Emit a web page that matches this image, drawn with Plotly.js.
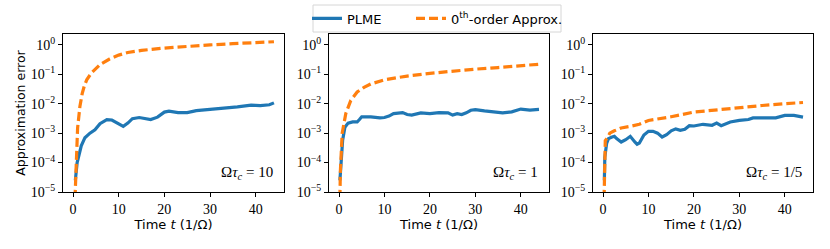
<!DOCTYPE html>
<html><head><meta charset="utf-8">
<script src="https://cdn.plot.ly/plotly-3.0.1.min.js"></script>
<style>body{margin:0;background:#fff}#c{width:830px;height:249px}</style>
</head><body><div id="c"></div>
<script>
// Panel labels
const panelLabels = ["Ω<i>τ</i><sub><i>c</i></sub> = 10", "Ω<i>τ</i><sub><i>c</i></sub> = 1", "Ω<i>τ</i><sub><i>c</i></sub> = 1/5"];
const seriesNames = ["PLME", "0<sup>th</sup>-order Approx."];
const yTickVals = [1e-5, 1e-4, 1e-3, 1e-2, 1e-1, 1];
const yTickText = ["10<sup>−5</sup>", "10<sup>−4</sup>", "10<sup>−3</sup>", "10<sup>−2</sup>", "10<sup>−1</sup>", "10<sup>0</sup>"];
const xTickVals = [0, 10, 20, 30, 40];

// Panel 1 (Ωτc = 10)
const t1_plme = [0.5, 0.9, 1.8, 2.6, 3.7, 4.8, 5.9, 7.4, 8.5, 10, 11, 12, 13, 14.5, 16, 17, 18.5, 20, 21, 23, 25, 27, 30, 33, 36, 39, 41, 43, 44];
const e1_plme = [2.5e-5, 1e-4, 3.7e-4, 7e-4, 1e-3, 1.3e-3, 2.1e-3, 2.9e-3, 2.8e-3, 2.0e-3, 1.7e-3, 2.2e-3, 3.1e-3, 3.4e-3, 3.2e-3, 2.9e-3, 3.5e-3, 5.2e-3, 5.6e-3, 5.0e-3, 5.0e-3, 5.8e-3, 6.4e-3, 7.0e-3, 7.8e-3, 9.0e-3, 8.6e-3, 9.2e-3, 1.07e-2];
const t1_zero = [0, 0.4, 0.7, 1.0, 1.5, 2.0, 2.5, 3, 4, 5, 6, 8, 10, 12, 15, 20, 25, 30, 35, 40, 44];
const e1_zero = [1e-7, 1e-5, 2e-4, 1.5e-3, 8e-3, 0.022, 0.042, 0.065, 0.11, 0.16, 0.22, 0.33, 0.45, 0.55, 0.65, 0.78, 0.9, 1.0, 1.1, 1.2, 1.28];

// Panel 2 (Ωτc = 1)
const t2_plme = [0.2, 0.5, 0.8, 1.3, 2, 3, 4, 4.5, 5, 7, 9, 10, 11, 12, 14, 15, 16, 18, 20, 22, 24, 25, 26, 27, 28, 29, 30, 32, 34, 36, 38, 40, 42, 44];
const e2_plme = [2.5e-5, 1.2e-4, 5.8e-4, 1.6e-3, 2.2e-3, 2.4e-3, 2.4e-3, 2.9e-3, 3.6e-3, 3.6e-3, 3.3e-3, 3.4e-3, 3.8e-3, 4.6e-3, 5.0e-3, 4.3e-3, 4.1e-3, 4.9e-3, 4.6e-3, 5.0e-3, 4.9e-3, 4.1e-3, 4.6e-3, 4.3e-3, 4.9e-3, 6.0e-3, 6.3e-3, 5.7e-3, 5.2e-3, 4.9e-3, 5.3e-3, 6.6e-3, 6.1e-3, 6.4e-3];
const t2_zero = [0, 0.3, 0.7, 1.5, 2.6, 4, 5.5, 7, 10, 15, 20, 25, 30, 35, 40, 44];
const e2_zero = [1e-7, 5e-5, 1e-3, 4.7e-3, 0.013, 0.025, 0.036, 0.047, 0.065, 0.087, 0.108, 0.13, 0.15, 0.17, 0.19, 0.22];

// Panel 3 (Ωτc = 1/5)
const t3_plme = [0.3, 0.4, 0.8, 1.2, 2, 2.5, 3, 4, 5, 6, 7, 7.5, 8, 9, 10, 11, 12, 13, 14, 15, 16, 17, 18, 19, 20, 22, 24, 25, 26, 27, 28, 30, 32, 33, 35, 36, 38, 40, 42, 44];
const e3_plme = [2.5e-5, 1.5e-4, 4.5e-4, 6.5e-4, 7.4e-4, 7.8e-4, 6.5e-4, 5e-4, 6e-4, 7.8e-4, 5e-4, 4.2e-4, 4.6e-4, 8.6e-4, 1.15e-3, 1.15e-3, 1e-3, 7.4e-4, 8.9e-4, 1.2e-3, 1.4e-3, 1.25e-3, 1.35e-3, 1.8e-3, 1.75e-3, 2e-3, 1.85e-3, 2.2e-3, 1.8e-3, 2.05e-3, 2.4e-3, 2.7e-3, 2.9e-3, 3.3e-3, 3.3e-3, 3.5e-3, 3.3e-3, 4e-3, 4e-3, 3.5e-3];
const t3_zero = [0, 0.3, 0.5, 1, 1.5, 2.5, 4, 6, 8, 10, 15, 20, 25, 30, 35, 40, 44];
const e3_zero = [1e-7, 1.5e-4, 5.6e-4, 7e-4, 1e-3, 1.2e-3, 1.5e-3, 1.7e-3, 2e-3, 2.7e-3, 3.6e-3, 5.2e-3, 6.3e-3, 7.5e-3, 8.7e-3, 1e-2, 1.1e-2];

const panels = [
  [t1_plme, e1_plme, t1_zero, e1_zero],
  [t2_plme, e2_plme, t2_zero, e2_zero],
  [t3_plme, e3_plme, t3_zero, e3_zero]
];

const W = 830, H = 249;
const xdoms = [[63, 284], [329, 549], [593, 813]];
const ydom = [1 - 192 / H, 1 - 34 / H];
const blue = "#1f77b4", orange = "#ff7f0e";
const tickFont = {family: "Liberation Serif, DejaVu Serif, serif", size: 14, color: "#000"};
const sansFont = {family: "DejaVu Sans, sans-serif", size: 13, color: "#000"};

const data = [];
const legendCommon = {orientation: "h", xanchor: "left", y: 1 - 18.5 / H, yanchor: "middle",
  borderwidth: 0, font: sansFont, bgcolor: "rgba(0,0,0,0)"};
const layout = {
  width: W, height: H,
  margin: {l: 0, r: 0, t: 0, b: 0},
  paper_bgcolor: "#fff", plot_bgcolor: "#fff",
  showlegend: true,
  legend: Object.assign({x: 307 / W}, legendCommon),
  legend2: Object.assign({x: 411 / W}, legendCommon),
  shapes: [{
    type: "rect", xref: "paper", yref: "paper",
    x0: 313 / W, x1: 561 / W, y0: 1 - 32 / H, y1: 1 - 5 / H,
    line: {color: "#d6d6d6", width: 1}, fillcolor: "rgba(255,255,255,0.8)", layer: "below"
  }],
  annotations: []
};

panels.forEach((p, i) => {
  const n = i === 0 ? "" : String(i + 1);
  const xa = "x" + n, ya = "y" + n;
  data.push({x: p[0], y: p[1], xaxis: xa, yaxis: ya, type: "scatter", mode: "lines",
    name: seriesNames[0], legendgroup: "a", showlegend: i === 0, legend: "legend",
    line: {color: blue, width: 3.2}});
  data.push({x: p[2], y: p[3], xaxis: xa, yaxis: ya, type: "scatter", mode: "lines",
    name: seriesNames[1], legendgroup: "b", showlegend: i === 0, legend: "legend2",
    line: {color: orange, width: 3.2, dash: "9px,4px"}});
  layout["xaxis" + n] = {
    domain: [xdoms[i][0] / W, xdoms[i][1] / W], anchor: ya,
    range: [-2.2, 46.2], tickvals: xTickVals, ticks: "outside", ticklen: 4,
    tickcolor: "#000", tickfont: tickFont, showgrid: false, zeroline: false,
    showline: true, mirror: true, linecolor: "#000", linewidth: 1,
    title: {text: "Time <i>t</i> (1/Ω)", font: {family: "DejaVu Sans, sans-serif", size: 13, color: "#000"}, standoff: 2}
  };
  layout["yaxis" + n] = {
    domain: ydom, anchor: xa, type: "log", range: [-5, 0.37],
    tickvals: yTickVals, ticktext: yTickText, ticks: "outside", ticklen: 4,
    tickcolor: "#000", tickfont: tickFont, showgrid: false, zeroline: false,
    showline: true, mirror: true, linecolor: "#000", linewidth: 1,
    title: i === 0 ? {text: "Approximation error", font: {family: "DejaVu Sans, sans-serif", size: 12.5, color: "#000"}, standoff: 2} : {text: ""}
  };
  layout.annotations.push({
    xref: xa + " domain", yref: ya + " domain", x: 0.96, y: 0.12,
    xanchor: "right", yanchor: "middle", showarrow: false,
    text: panelLabels[i], font: {family: "Liberation Serif, DejaVu Serif, serif", size: 15, color: "#000"}
  });
});

Plotly.newPlot("c", data, layout, {staticPlot: true});
</script></body></html>
